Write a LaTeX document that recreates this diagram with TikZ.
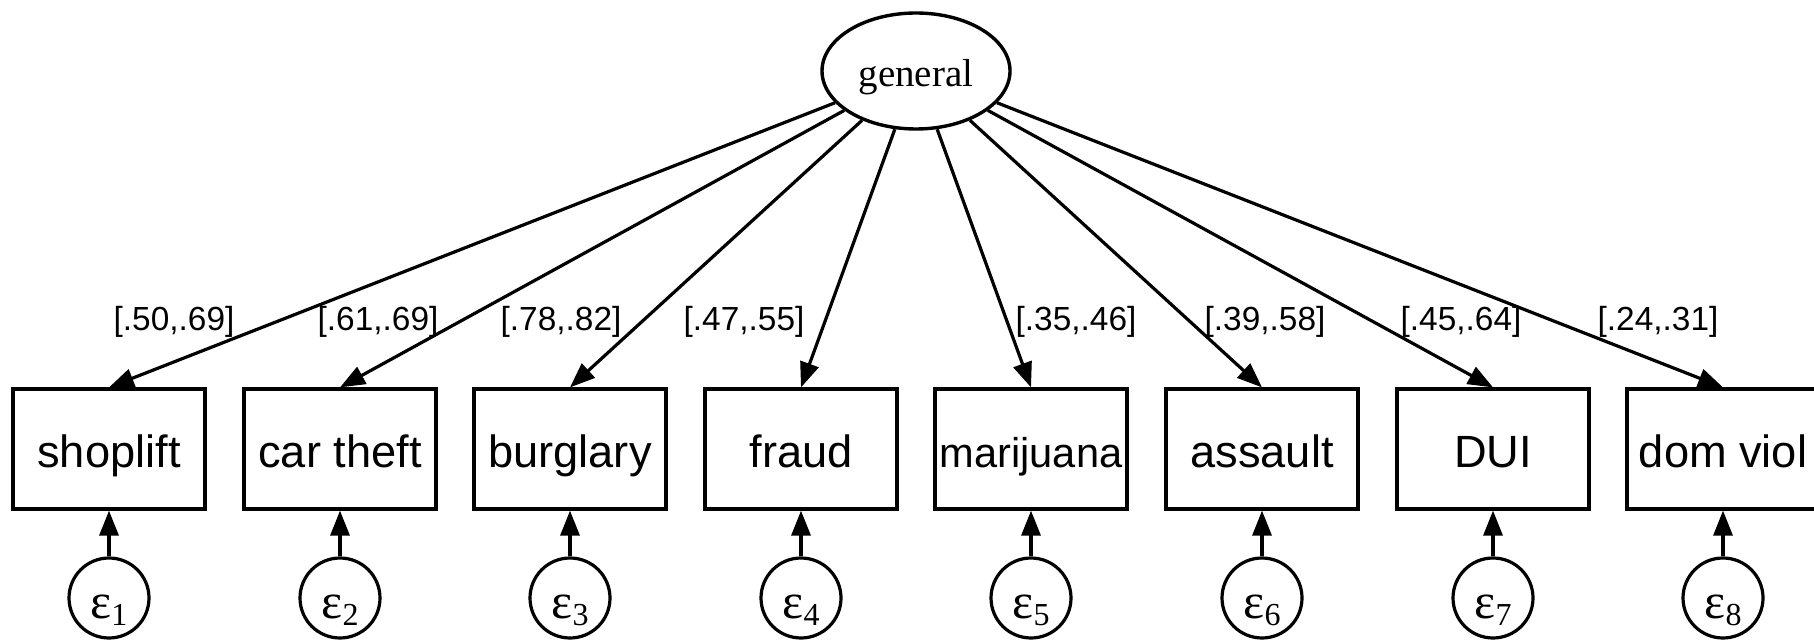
\documentclass[tikz,border=0pt]{standalone}
\usepackage{fontspec}
\setmainfont{Liberation Serif}
\newfontfamily\arialfont{Liberation Sans}
\usetikzlibrary{arrows.meta,shapes.geometric}
\tikzset{
	latent/.style = {ellipse, draw=black, line width=1.7pt, inner sep=0pt,
		minimum width=94pt, minimum height=58pt, text height=16pt, text depth=0pt,
		font=\fontsize{19.5}{20}\selectfont},
	obsbox/.style = {rectangle, draw=black, line width=1.6pt, inner sep=0pt,
		minimum width=96pt, minimum height=60pt, text height=18pt, text depth=0pt,
		font=\arialfont\fontsize{22.6}{24}\selectfont},
	errc/.style = {circle, draw=black, line width=1.6pt, inner sep=0pt,
		minimum size=40pt, text height=20pt, text depth=0pt},
	ci/.style = {inner sep=0pt, font=\arialfont\fontsize{16.7}{18}\selectfont},
	path/.style = {-{Triangle[length=12.5pt,width=9.5pt]}, line width=1.6pt}
}
\newcommand{\errlab}[1]{{\fontsize{25}{25}\selectfont ε\raisebox{-3.5pt}{\fontsize{16}{16}\selectfont #1}}}

\begin{document}
\begin{tikzpicture}[x=0.5pt,y=-0.5pt]
\clip (0,0) rectangle (1814,641);
\node [latent] (gen) at (916,71) {general};
% observed variables
\node [obsbox] (shop) at (109,449) {shoplift};
\node [obsbox] (car) at (340,449) {car theft};
\node [obsbox] (burg) at (570,449) {burglary};
\node [obsbox] (fraud) at (801,449) {fraud};
\node [obsbox, font=\arialfont\fontsize{20.8}{22}\selectfont] (mari) at (1031,449) {marijuana};
\node [obsbox] (assault) at (1262,449) {assault};
\node [obsbox] (dui) at (1493,449) {DUI};
\node [obsbox] (dom) at (1723,449) {dom viol};
% errors
\node [errc] (e1) at (109,598) {\errlab{1}};
\node [errc] (e2) at (340,598) {\errlab{2}};
\node [errc] (e3) at (570,598) {\errlab{3}};
\node [errc] (e4) at (801,598) {\errlab{4}};
\node [errc] (e5) at (1031,598) {\errlab{5}};
\node [errc] (e6) at (1262,598) {\errlab{6}};
\node [errc] (e7) at (1493,598) {\errlab{7}};
\node [errc] (e8) at (1723,598) {\errlab{8}};
% intervals
\node [ci] (ci1) at (174,322) {[.50,.69]};
\node [ci] (ci2) at (378,322) {[.61,.69]};
\node [ci] (ci3) at (561,322) {[.78,.82]};
\node [ci] (ci4) at (744,322) {[.47,.55]};
\node [ci] (ci5) at (1076,322) {[.35,.46]};
\node [ci] (ci6) at (1265,322) {[.39,.58]};
\node [ci] (ci7) at (1461,322) {[.45,.64]};
\node [ci] (ci8) at (1658,322) {[.24,.31]};
% loadings
\draw [path] (gen) -- (shop.north);
\draw [path] (gen) -- (car.north);
\draw [path] (gen) -- (burg.north);
\draw [path] (gen) -- (fraud.north);
\draw [path] (gen) -- (mari.north);
\draw [path] (gen) -- (assault.north);
\draw [path] (gen) -- (dui.north);
\draw [path] (gen) -- (dom.north);
% error paths
\draw [path] (e1) -- (shop);
\draw [path] (e2) -- (car);
\draw [path] (e3) -- (burg);
\draw [path] (e4) -- (fraud);
\draw [path] (e5) -- (mari);
\draw [path] (e6) -- (assault);
\draw [path] (e7) -- (dui);
\draw [path] (e8) -- (dom);
\end{tikzpicture}
\end{document}
